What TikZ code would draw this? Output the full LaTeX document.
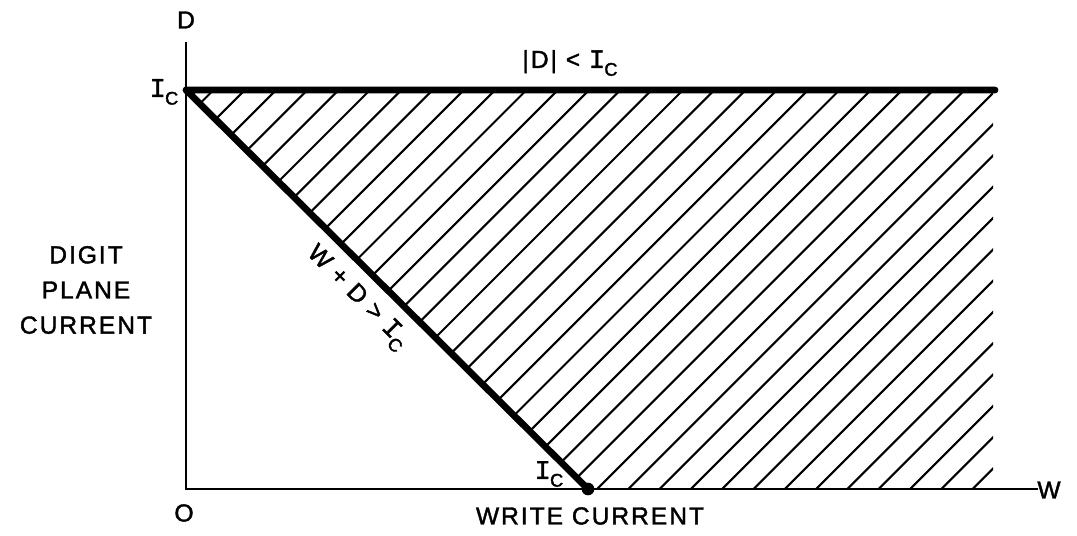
\documentclass[tikz,border=0pt]{standalone}
\usepackage{fontspec}
\setmainfont{Liberation Sans}
\newfontfamily\letterfont[LetterSpace=8, FakeBold=1.6]{Liberation Sans}
\newfontfamily\serifIfont[FakeBold=1.6]{Liberation Mono}
\usetikzlibrary{positioning}
\newcommand{\Ic}{{\serifIfont\fontsize{19}{20}\selectfont I}\kern-0.5pt\raisebox{-0.6ex}{\fontsize{13}{13}\selectfont C}}
\tikzset{
  axisline/.style={line width=1.6pt, black},
  limitline/.style={line width=4.8pt, black, line cap=round, line join=round},
  hatchline/.style={line width=1.5pt, black},
  axlabel/.style={font=\letterfont\fontsize{17.5}{25}\selectfont, inner sep=0pt, align=center},
  opdot/.style={fill=black, circle, inner sep=0pt, minimum size=9pt}
}

\begin{document}
\begin{tikzpicture}[x=0.025cm, y=-0.025cm]
  \useasboundingbox (0,0) rectangle (1077,536);
  % corners of the operating region
  \coordinate (O) at (186,489);
  \coordinate (Dtop) at (186,42);
  \coordinate (Wend) at (1038,489);
  \coordinate (Dc) at (186,90);
  \coordinate (Wc) at (588,489);
  \coordinate (TR) at (995,90);
  % hatching
  \begin{scope}
    \clip (Dc) -- (993,90) -- (993,489) -- (Wc) -- cycle;
    \foreach \k in {-3,...,36}
      \draw[hatchline] ({1399-31.3*\k-600},600) -- ({1399-31.3*\k},0);
  \end{scope}
  % axes
  \draw[axisline] (Dtop) -- (O) -- (Wend);
  % limits
  \draw[limitline] (TR) -- (Dc) -- (Wc);
  \node[opdot] (wpt) at (Wc) {};
  % labels
  \node[axlabel] (dlab) at (186,20) {D};
  \node[axlabel] (wlab) at (1049,490) {W};
  \node[axlabel] (olab) at (184,513) {O};
  \node[axlabel] (xtitle) at (590,516) {WRITE CURRENT};
  \node[axlabel] (ytitle) at (86,290) {DIGIT\\PLANE\\CURRENT};
  \node[axlabel] (toplab) at (570,63) {|D| < \Ic};
  \node[axlabel] (iclft) at (164,92) {\Ic};
  \node[axlabel] (icbot) at (549,474) {\Ic};
  \node[axlabel, rotate=-45] (sumlab) at (357,298) {W + D > \Ic};
\end{tikzpicture}
\end{document}
